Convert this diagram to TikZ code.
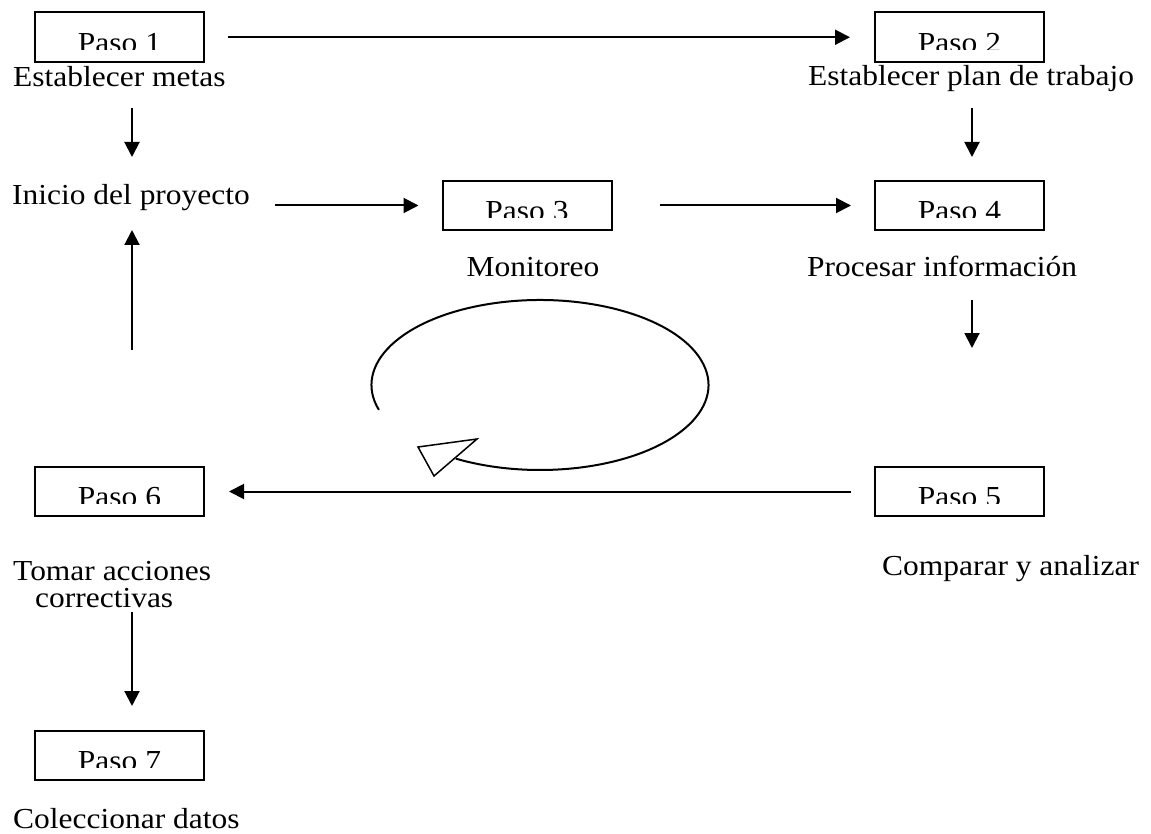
\documentclass[tikz,border=0pt]{standalone}
\usepackage{fontspec}
\setmainfont{Liberation Serif}[FakeStretch=1.085]
\usetikzlibrary{arrows.meta,calc}
\tikzset{
  lw/.style={line width=2pt},
  stepbox/.style={draw, lw, minimum width=169pt, minimum height=49.5pt, inner sep=0pt,
    path picture={
      \clip (path picture bounding box.north west) rectangle ([yshift=12.5pt]path picture bounding box.south east);
      \node[anchor=base, inner sep=0pt, font=\fontsize{29}{27}\selectfont]
        at ([yshift=-40pt]path picture bounding box.north) {#1};
    }},
  lbl/.style={inner sep=0pt, font=\fontsize{29}{27}\selectfont},
  arr/.style={lw, -{Triangle[length=15pt,width=15pt]}},
}
\begin{document}
\begin{tikzpicture}[x=1pt,y=-1pt]
\useasboundingbox (0,0) rectangle (1151,834);
% boxes
\node[stepbox=Paso 1] (p1) at (119.5,37.25) {};
\node[stepbox=Paso 2] (p2) at (959.5,37.25) {};
\node[stepbox=Paso 3] (p3) at (527,205.5) {};
\node[stepbox=Paso 4] (p4) at (959.5,205.5) {};
\node[stepbox=Paso 5] (p5) at (959.5,491.5) {};
\node[stepbox=Paso 6] (p6) at (119.5,491.5) {};
\node[stepbox=Paso 7] (p7) at (119.5,755.5) {};
% labels
\node[lbl, anchor=base west] (metas) at (13,87) {Establecer metas};
\node[lbl, anchor=base west] (plan) at (808,86) {Establecer plan de trabajo};
\node[lbl, anchor=base west] (inicio) at (12,205) {Inicio del proyecto};
\node[lbl, anchor=base] (monitoreo) at (533,277) {Monitoreo};
\node[lbl, anchor=base west] (procesar) at (807,277) {Procesar información};
\node[lbl, anchor=base west, text depth=0pt] (tomar) at (13,580) {Tomar acciones};
\node[lbl, anchor=base west, text height=20pt] (correctivas) at (35,607) {correctivas};
\node[lbl, anchor=base west] (comparar) at (882,575) {Comparar y analizar};
\node[lbl, anchor=base west] (coleccionar) at (13,828) {Coleccionar datos};
% free ends
\coordinate (metasS) at (132,108);
\coordinate (inicioN) at (132,157);
\coordinate (inicioE) at (275,205.5);
\coordinate (planS) at (972,108);
\coordinate (p4N) at (972,157);
\coordinate (procS) at (972,300);
\coordinate (p5N) at (972,348);
\coordinate (upS) at (132,350);
\coordinate (inicioS) at (132,230);
\coordinate (corrS) at (132,612);
\coordinate (p7N) at (132,706);
% connectors
\draw[arr] ([xshift=23pt]p1.east) -- ([xshift=-24pt]p2.west);
\draw[arr] (metasS) -- (inicioN);
\draw[arr] (inicioE) -- ([xshift=-23pt]p3.west);
\draw[arr] ([xshift=47pt]p3.east) -- ([xshift=-23pt]p4.west);
\draw[arr] (planS) -- (p4N);
\draw[arr] (procS) -- (p5N);
\draw[arr] ([xshift=-23pt]p5.west) -- ([xshift=24pt]p6.east);
\draw[arr] (upS) -- (inicioS);
\draw[arr] (corrS) -- (p7N);
% cycle
\coordinate (cyc) at (540,385);
\draw[lw] ($(cyc)+(197:168.5pt and 85pt)$) arc[start angle=197, end angle=-120, x radius=168.5pt, y radius=85pt];
\draw[line width=1.5pt, fill=white, line join=miter] (418,447) -- (434,476) -- (477,439) -- cycle;
\end{tikzpicture}
\end{document}
